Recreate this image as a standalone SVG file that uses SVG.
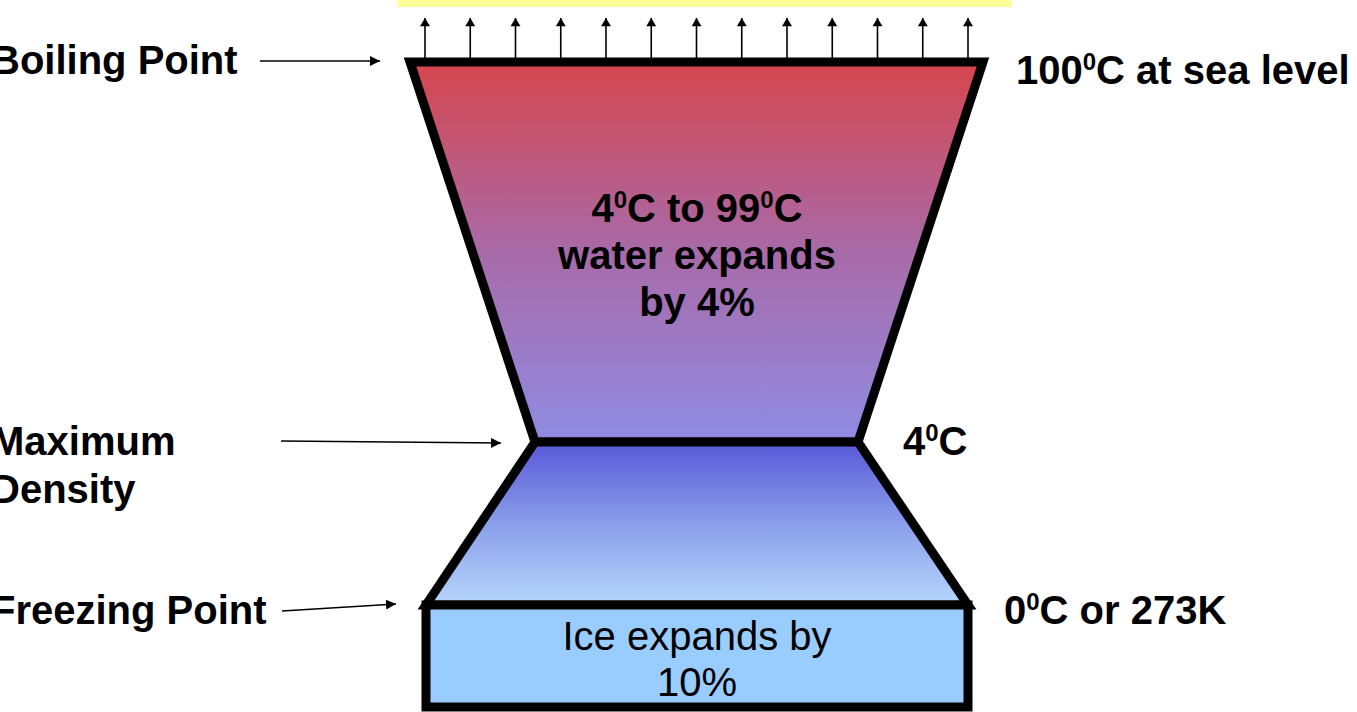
<svg xmlns="http://www.w3.org/2000/svg" width="1357" height="712" viewBox="0 0 1357 712">
<style>
.lbl{font-family:"Liberation Sans",Arial,sans-serif;font-weight:bold;font-size:40px;fill:#000}
.ice{font-family:"Liberation Sans",Arial,sans-serif;font-size:40px;fill:#000}
.sup{font-size:24px}
.shape{stroke:#000;stroke-width:9;stroke-linejoin:miter}
.thin{stroke:#000;stroke-width:1.6;fill:none}
</style>
<defs>
<linearGradient id="gUp" x1="0" y1="0" x2="0" y2="1">
<stop offset="0" stop-color="#d6464e"/>
<stop offset="0.5" stop-color="#a86aa8"/>
<stop offset="1" stop-color="#8f8ce4"/>
</linearGradient>
<linearGradient id="gLow" x1="0" y1="0" x2="0" y2="1">
<stop offset="0" stop-color="#5858d8"/>
<stop offset="0.5" stop-color="#8a9eea"/>
<stop offset="1" stop-color="#b6d6fc"/>
</linearGradient>
<marker id="ah" viewBox="0 0 10 10" refX="10" refY="5" markerWidth="10" markerHeight="10" markerUnits="userSpaceOnUse" orient="auto">
<path d="M0,0 L10,5 L0,10 z" fill="#000"/>
</marker>
<marker id="ahUp" viewBox="0 0 10 12" refX="10" refY="6" markerWidth="12" markerHeight="10" markerUnits="userSpaceOnUse" orient="auto">
<path d="M0,0 L10,6 L0,12 z" fill="#000"/>
</marker>
</defs>

<rect id="steam-bar" x="397" y="0" width="615" height="7" fill="#ffff99"/>

<g id="upper-water">
<polygon class="shape" fill="url(#gUp)" points="410,62 983,62 858,442 535,442"/>
<text class="lbl" text-anchor="middle"><tspan x="697" y="222">4<tspan class="sup" dy="-14">0</tspan><tspan dy="14">C to 99</tspan><tspan class="sup" dy="-14">0</tspan><tspan dy="14">C</tspan></tspan><tspan x="697" y="269">water expands</tspan><tspan x="697" y="316">by 4%</tspan></text>
</g>

<g id="lower-water">
<polygon class="shape" fill="url(#gLow)" points="535,442 858,442 968,605 426,605"/>
</g>

<g id="ice">
<rect class="shape" fill="#99ccff" x="426" y="605" width="542" height="102"/>
<text class="ice" text-anchor="middle"><tspan x="697" y="650">Ice expands by</tspan><tspan x="697" y="696">10%</tspan></text>
</g>

<g id="labels">
<text class="lbl" x="-9" y="74">Boiling Point</text>
<text class="lbl" x="1016" y="84">100<tspan class="sup" dy="-14">0</tspan><tspan dy="14">C at sea level</tspan></text>
<text class="lbl" x="-9" y="455">Maximum</text>
<text class="lbl" x="-9" y="503">Density</text>
<text class="lbl" x="903" y="455">4<tspan class="sup" dy="-14">0</tspan><tspan dy="14">C</tspan></text>
<text class="lbl" x="-9" y="624">Freezing Point</text>
<text class="lbl" x="1004" y="624">0<tspan class="sup" dy="-14">0</tspan><tspan dy="14">C or 273K</tspan></text>
</g>

<g id="connectors">
<line class="thin" x1="260" y1="61" x2="380" y2="61" marker-end="url(#ah)"/>
<line class="thin" x1="281" y1="441" x2="501" y2="443" marker-end="url(#ah)"/>
<line class="thin" x1="282" y1="611" x2="396" y2="604" marker-end="url(#ah)"/>
<g class="thin" marker-end="url(#ahUp)">
<line x1="425" y1="58" x2="425" y2="18"/>
<line x1="470.25" y1="58" x2="470.25" y2="18"/>
<line x1="515.5" y1="58" x2="515.5" y2="18"/>
<line x1="560.75" y1="58" x2="560.75" y2="18"/>
<line x1="606" y1="58" x2="606" y2="18"/>
<line x1="651.25" y1="58" x2="651.25" y2="18"/>
<line x1="696.5" y1="58" x2="696.5" y2="18"/>
<line x1="741.75" y1="58" x2="741.75" y2="18"/>
<line x1="787" y1="58" x2="787" y2="18"/>
<line x1="832.25" y1="58" x2="832.25" y2="18"/>
<line x1="877.5" y1="58" x2="877.5" y2="18"/>
<line x1="922.75" y1="58" x2="922.75" y2="18"/>
<line x1="968" y1="58" x2="968" y2="18"/>
</g>
</g>
</svg>
